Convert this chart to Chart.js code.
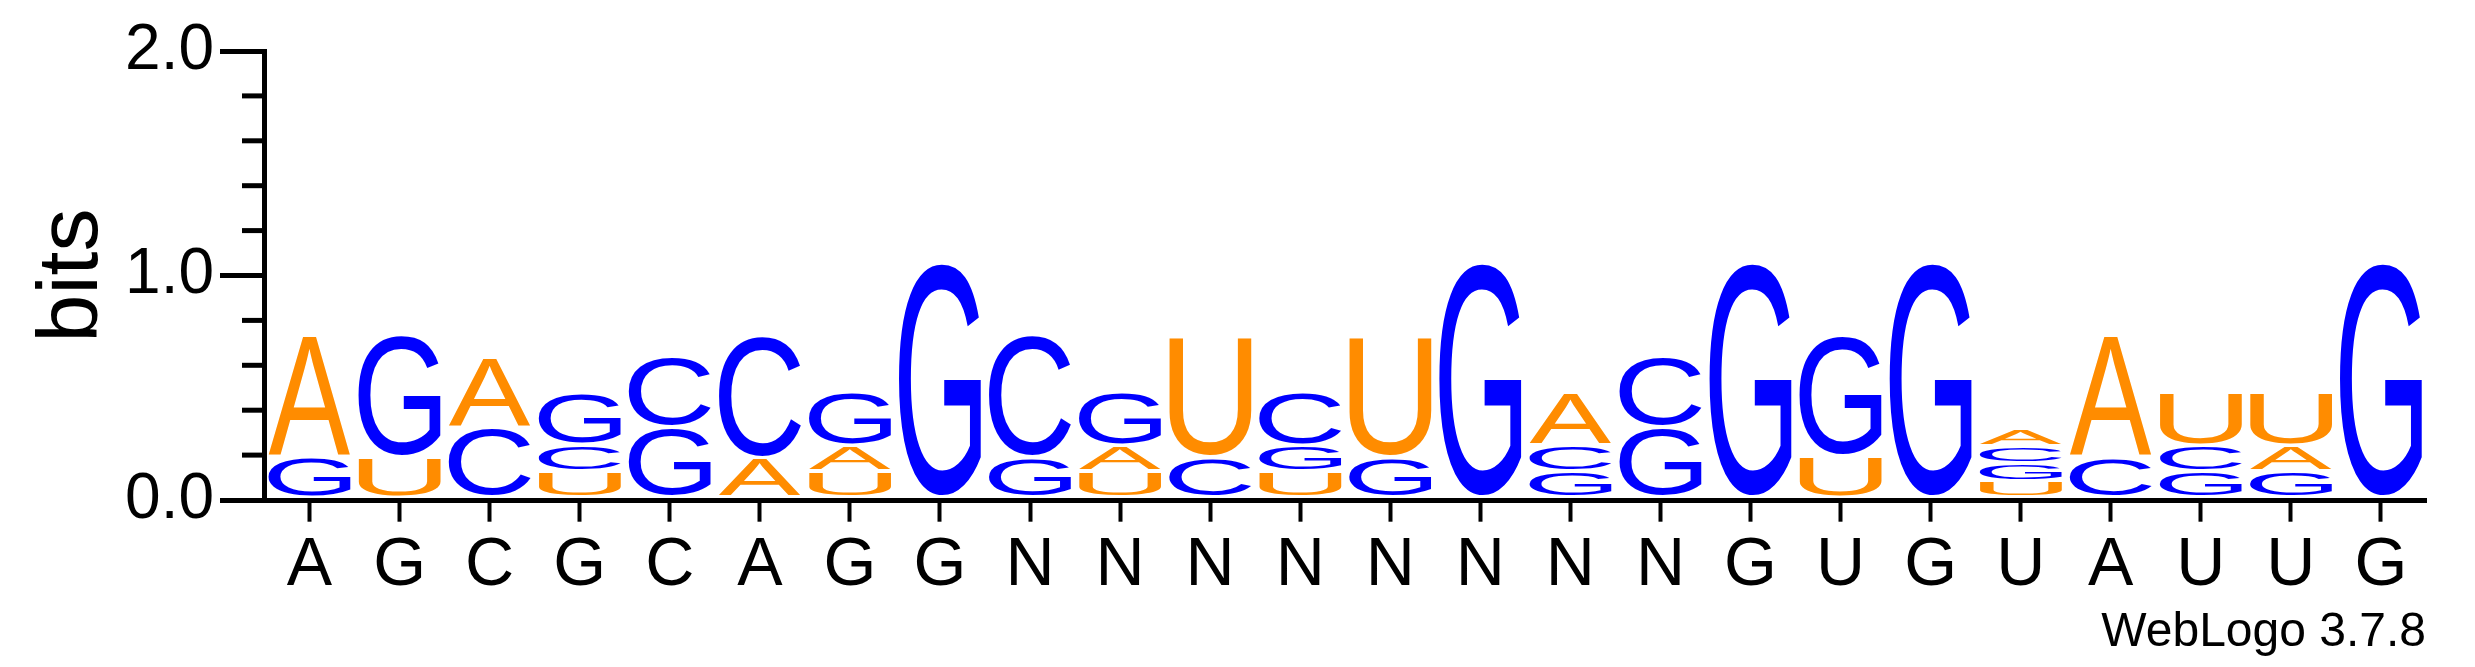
<!DOCTYPE html>
<html>
<head>
<meta charset="utf-8">
<script src="https://cdn.jsdelivr.net/npm/chart.js@4.4.1/dist/chart.umd.min.js"></script>
<style>
  html, body { margin: 0; padding: 0; background: #fff; }
  #wrap { width: 2475px; height: 667px; }
</style>
</head>
<body>
<div id="wrap"><canvas id="logo" width="2475" height="667"></canvas></div>
<script>
// sequence positions along the x axis
const positions = ['A','G','C','G','C','A','G','G','N','N','N','N','N','N','N','N','G','U','G','U','A','U','U','G'];

// stack layers, bottom to top: letter and height in bits
const layer1Letters = ['G','U','C','U','G','A','U','G','G','U','C','U','G','G','G','G','G','U','G','U','C','G','G','G'];
const layer1Bits    = [0.192,0.192,0.324,0.130,0.324,0.190,0.129,1.059,0.191,0.129,0.191,0.129,0.191,1.059,0.129,0.324,1.059,0.199,1.059,0.085,0.191,0.129,0.129,1.059];

const layer2Letters = ['A','G','A','C','C','C','A',null,'C','A','U','G','U',null,'C','C',null,'G',null,'G','A','C','A',null];
const layer2Bits    = [0.544,0.544,0.316,0.116,0.316,0.546,0.115,0,0.545,0.115,0.540,0.115,0.540,0,0.115,0.316,0,0.537,0,0.079,0.545,0.115,0.115,0];

const layer3Letters = [null,null,null,'G',null,null,'G',null,null,'G',null,'C',null,null,'A',null,null,null,null,'C',null,'U','U',null];
const layer3Bits    = [0,0,0,0.236,0,0,0.238,0,0,0.238,0,0.238,0,0,0.235,0,0,0,0,0.077,0,0.238,0.238,0];

const layer4Letters = [null,null,null,null,null,null,null,null,null,null,null,null,null,null,null,null,null,null,null,'A',null,null,null,null];
const layer4Bits    = [0,0,0,0,0,0,0,0,0,0,0,0,0,0,0,0,0,0,0,0.082,0,0,0,0];

const yMax = 2;
const minorStep = 0.2;

const FONT = "'Liberation Sans', Arial, Helvetica, sans-serif";
const letterColors = { A: '#ff8c00', U: '#ff8c00', C: '#0000ff', G: '#0000ff' };

// draw one letter stretched to fill its box
function drawGlyph(ctx, ch, x, y, w, h, color) {
  if (h <= 0) return;
  ctx.save();
  ctx.font = '200px ' + FONT;
  ctx.textAlign = 'left';
  ctx.textBaseline = 'alphabetic';
  const m = ctx.measureText(ch);
  const gw = m.actualBoundingBoxLeft + m.actualBoundingBoxRight;
  const gh = m.actualBoundingBoxAscent + m.actualBoundingBoxDescent;
  ctx.translate(x, y);
  ctx.scale(w / gw, h / gh);
  ctx.fillStyle = color;
  ctx.fillText(ch, m.actualBoundingBoxLeft, m.actualBoundingBoxAscent);
  ctx.restore();
}

const logoPlugin = {
  id: 'logo',
  afterDatasetsDraw(chart) {
    const ctx = chart.ctx;
    chart.data.datasets.forEach((ds, di) => {
      const meta = chart.getDatasetMeta(di);
      meta.data.forEach((bar, i) => {
        const letter = ds.letters[i];
        if (!letter || !ds.data[i]) return;
        const top = bar.y + 2;
        const bottom = bar.base - (di === 0 ? 4.3 : 2);
        drawGlyph(ctx, letter, bar.x - bar.width / 2, top, bar.width, bottom - top, letterColors[letter]);
      });
    });
  },
  afterDraw(chart) {
    // short minor ticks on the bits axis
    const y = chart.scales.y;
    const ctx = chart.ctx;
    ctx.save();
    ctx.strokeStyle = '#000';
    ctx.lineWidth = 5;
    for (let v = minorStep; v < yMax - 1e-6; v += minorStep) {
      if (Math.abs(v - Math.round(v)) < 1e-6) continue;
      const py = y.getPixelForValue(v);
      ctx.beginPath();
      ctx.moveTo(y.right - 22.5, py);
      ctx.lineTo(y.right, py);
      ctx.stroke();
    }
    ctx.restore();
  }
};

function layer(letters, bits) {
  return { letters: letters, data: bits, backgroundColor: 'rgba(0,0,0,0)', borderWidth: 0 };
}

new Chart(document.getElementById('logo'), {
  type: 'bar',
  data: {
    labels: positions,
    datasets: [
      layer(layer1Letters, layer1Bits),
      layer(layer2Letters, layer2Bits),
      layer(layer3Letters, layer3Bits),
      layer(layer4Letters, layer4Bits)
    ]
  },
  options: {
    responsive: false,
    devicePixelRatio: 1,
    animation: false,
    categoryPercentage: 0.91,
    barPercentage: 1,
    layout: { padding: { top: 51, right: 49, bottom: 0, left: 0 } },
    plugins: { legend: { display: false }, tooltip: { enabled: false } },
    scales: {
      x: {
        stacked: true,
        afterFit: s => { s.height = 167; },
        border: { display: true, color: '#000', width: 5 },
        grid: { drawOnChartArea: false, offset: false, color: '#000', tickLength: 21.7, tickWidth: 4 },
        ticks: { color: '#000', padding: 4, autoSkip: false, maxRotation: 0, font: { size: 68, family: FONT } },
        title: { display: true, text: 'WebLogo 3.7.8', align: 'end', color: '#000',
                 font: { size: 48, family: FONT }, padding: { top: 0, bottom: 5 } }
      },
      y: {
        stacked: true,
        min: 0,
        max: yMax,
        afterFit: s => { s.width = 264.5; },
        border: { display: true, color: '#000', width: 5 },
        grid: { drawOnChartArea: false, color: '#000', tickLength: 44.5, tickWidth: 5 },
        ticks: { stepSize: 1, padding: 6, color: '#000', font: { size: 64, family: FONT },
                 callback: v => Number(v).toFixed(1) },
        title: { display: true, text: 'bits', color: '#000',
                 font: { size: 86, family: FONT }, padding: { top: 22, bottom: 0 } }
      }
    }
  },
  plugins: [logoPlugin]
});
</script>
</body>
</html>
